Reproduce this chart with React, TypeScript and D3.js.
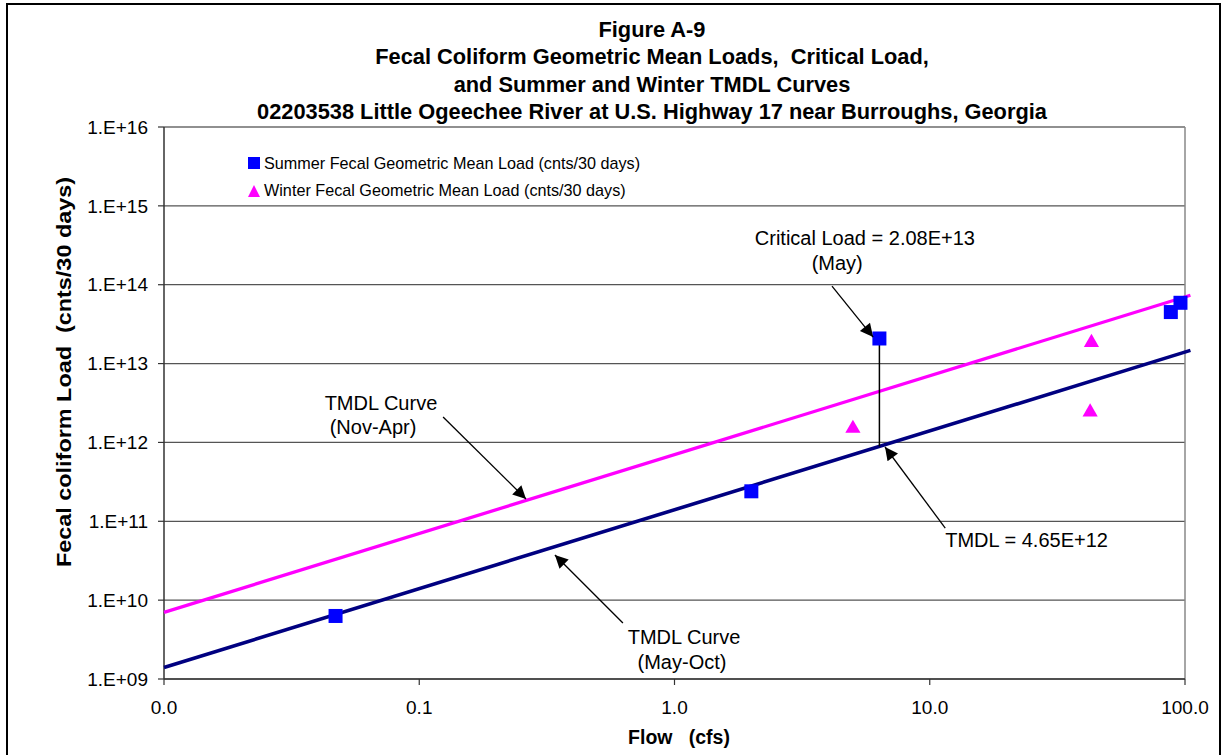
import React from "react";
import * as d3 from "d3";

// ---- Data ----
const summerFlow = [0.047, 2.0, 6.35, 88, 96];
const summerLoad = [6.3e9, 2.4e11, 2.08e13, 4.5e13, 5.9e13];

const winterFlow = [5.0, 43, 42.5];
const winterLoad = [1.55e12, 1.9e13, 2.5e12];

const curveFlow = [0.01, 105];
const winterTmdl = [7.0e9, 7.35e13];
const summerTmdl = [1.4e9, 1.47e13];

const criticalFlow = 6.35;
const criticalLoad = 2.08e13;
const tmdlAtCritical = 8.9e11;

const xTickValues = [0.01, 0.1, 1, 10, 100];
const xTickLabels = ["0.0", "0.1", "1.0", "10.0", "100.0"];
const yTickValues = [1e9, 1e10, 1e11, 1e12, 1e13, 1e14, 1e15, 1e16];
const yTickLabels = ["1.E+09", "1.E+10", "1.E+11", "1.E+12", "1.E+13", "1.E+14", "1.E+15", "1.E+16"];

const titleLines = [
  "Figure A-9",
  "Fecal Coliform Geometric Mean Loads,\u00a0\u00a0Critical Load,",
  "and Summer and Winter TMDL Curves",
  "02203538 Little Ogeechee River at U.S. Highway 17 near Burroughs, Georgia",
];

const legendLabels = [
  "Summer Fecal Geometric Mean Load (cnts/30 days)",
  "Winter Fecal Geometric Mean Load (cnts/30 days)",
];

// annotations in data coordinates
const annotations = [
  {
    lines: ["Critical Load = 2.08E+13", "(May)"],
    textAt: [[5.57, 3.19e14], [4.34, 1.54e14]],
    anchor: "middle",
    tail: [4.14, 9.6e13],
    tip: [6.0, 2.17e13],
  },
  {
    lines: ["TMDL Curve", "(Nov-Apr)"],
    textAt: [[0.0708, 2.58e12], [0.0659, 1.28e12]],
    anchor: "middle",
    tail: [0.124, 2.1e12],
    tip: [0.262, 1.92e11],
  },
  {
    lines: ["TMDL = 4.65E+12"],
    textAt: [[11.5, 4.72e10]],
    anchor: "start",
    tail: [11.5, 8.2e10],
    tip: [6.68, 8.75e11],
  },
  {
    lines: ["TMDL Curve", "(May-Oct)"],
    textAt: [[1.09, 2.78e9], [1.07, 1.34e9]],
    anchor: "middle",
    tail: [0.628, 5.13e9],
    tip: [0.34, 3.74e10],
  },
];

const W = 1225;
const H = 755;
const left = 164;
const right = 1185;
const top = 127;
const bottom = 679;
const font = "'Liberation Sans', Arial, Helvetica, sans-serif";

export default function App() {
  const x = d3.scaleLog().domain([0.01, 100]).range([left, right]);
  const y = d3.scaleLog().domain([1e9, 1e16]).range([bottom, top]);

  const line = d3
    .line<[number, number]>()
    .x((d) => x(d[0]))
    .y((d) => y(d[1]));

  const winterPts = curveFlow.map((f, i) => [f, winterTmdl[i]] as [number, number]);
  const summerPts = curveFlow.map((f, i) => [f, summerTmdl[i]] as [number, number]);

  const tri = d3.symbol().type(d3.symbolTriangle).size(100)();

  return (
    <svg
      width={W}
      height={H}
      style={{ position: "absolute", left: 0, top: 0, background: "#fff" }}
      fontFamily={font}
    >
      <defs>
        <marker
          id="arrow"
          viewBox="0 0 10 10"
          refX="10"
          refY="5"
          markerWidth="16"
          markerHeight="13"
          markerUnits="userSpaceOnUse"
          orient="auto"
        >
          <path d="M0,0 L10,5 L0,10 z" fill="#000" />
        </marker>
      </defs>
      <rect x={0} y={0} width={W} height={H} fill="#fff" />
      {/* outer frame */}
      <rect x={7} y={4} width={1213} height={H + 10} fill="none" stroke="#000" strokeWidth={2} />

      {/* title */}
      {titleLines.map((t, i) => (
        <text
          key={i}
          x={652}
          y={37 + i * 27.3}
          textAnchor="middle"
          fontWeight="bold"
          fontSize={21.8}
          fill="#000"
        >
          {t}
        </text>
      ))}

      {/* gridlines */}
      {yTickValues.map((v, i) => (
        <line key={i} x1={left} x2={right} y1={y(v)} y2={y(v)} stroke="#555" strokeWidth={1.2} />
      ))}
      {/* plot border top/right */}
      <line x1={left} x2={right} y1={top} y2={top} stroke="#888" strokeWidth={1.5} />
      <line x1={right} x2={right} y1={top} y2={bottom} stroke="#888" strokeWidth={1.5} />
      {/* axes */}
      <line x1={left} x2={left} y1={top} y2={bottom} stroke="#333" strokeWidth={1.5} />
      <line x1={left} x2={right} y1={bottom} y2={bottom} stroke="#333" strokeWidth={1.5} />

      {/* y ticks */}
      {yTickValues.map((v, i) => (
        <g key={i}>
          <line x1={left - 6} x2={left} y1={y(v)} y2={y(v)} stroke="#333" strokeWidth={1.2} />
          <text x={148} y={y(v)} dy="0.35em" textAnchor="end" fontSize={19} fill="#000">
            {yTickLabels[i]}
          </text>
        </g>
      ))}
      {/* x ticks */}
      {xTickValues.map((v, i) => (
        <g key={i}>
          <line x1={x(v)} x2={x(v)} y1={bottom} y2={bottom + 6} stroke="#333" strokeWidth={1.2} />
          <text x={x(v)} y={714} textAnchor="middle" fontSize={19} fill="#000">
            {xTickLabels[i]}
          </text>
        </g>
      ))}

      {/* axis titles */}
      <text x={679} y={744} textAnchor="middle" fontWeight="bold" fontSize={19.5} fill="#000">
        Flow&#160;&#160;&#160;(cfs)
      </text>
      <text
        transform={`translate(71, 372) rotate(-90)`}
        textAnchor="middle"
        fontWeight="bold"
        fontSize={20.5}
        textLength={390}
        lengthAdjust="spacingAndGlyphs"
        fill="#000"
      >
        Fecal coliform Load&#160;&#160;(cnts/30 days)
      </text>

      {/* TMDL curves */}
      <path d={line(winterPts) || ""} fill="none" stroke="#FF00FF" strokeWidth={3.3} />
      <path d={line(summerPts) || ""} fill="none" stroke="#000080" strokeWidth={3.6} />

      {/* critical vertical line */}
      <line
        x1={x(criticalFlow)}
        x2={x(criticalFlow)}
        y1={y(criticalLoad)}
        y2={y(tmdlAtCritical)}
        stroke="#000"
        strokeWidth={1.5}
      />

      {/* summer squares */}
      {summerFlow.map((f, i) => (
        <rect
          key={i}
          x={x(f) - 7}
          y={y(summerLoad[i]) - 7}
          width={14}
          height={14}
          fill="#0000FF"
        />
      ))}
      {/* winter triangles */}
      {winterFlow.map((f, i) => (
        <path
          key={i}
          d={tri || ""}
          transform={`translate(${x(f)},${y(winterLoad[i]) + 1})`}
          fill="#FF00FF"
        />
      ))}

      {/* annotations */}
      {annotations.map((a, i) => (
        <g key={i}>
          <line
            x1={x(a.tail[0])}
            y1={y(a.tail[1])}
            x2={x(a.tip[0])}
            y2={y(a.tip[1])}
            stroke="#000"
            strokeWidth={1.3}
            markerEnd="url(#arrow)"
          />
          {a.lines.map((t, j) => (
            <text
              key={j}
              x={x(a.textAt[j][0])}
              y={y(a.textAt[j][1])}
              textAnchor={a.anchor as any}
              fontSize={20}
              fill="#000"
            >
              {t}
            </text>
          ))}
        </g>
      ))}

      {/* legend */}
      <rect x={248} y={157} width={12} height={12} fill="#0000FF" />
      <text x={264} y={169} fontSize={16.2} fill="#000">
        {legendLabels[0]}
      </text>
      <path d="M248,197 L254,185 L260,197 Z" fill="#FF00FF" />
      <text x={264} y={196} fontSize={16.2} fill="#000">
        {legendLabels[1]}
      </text>
    </svg>
  );
}
